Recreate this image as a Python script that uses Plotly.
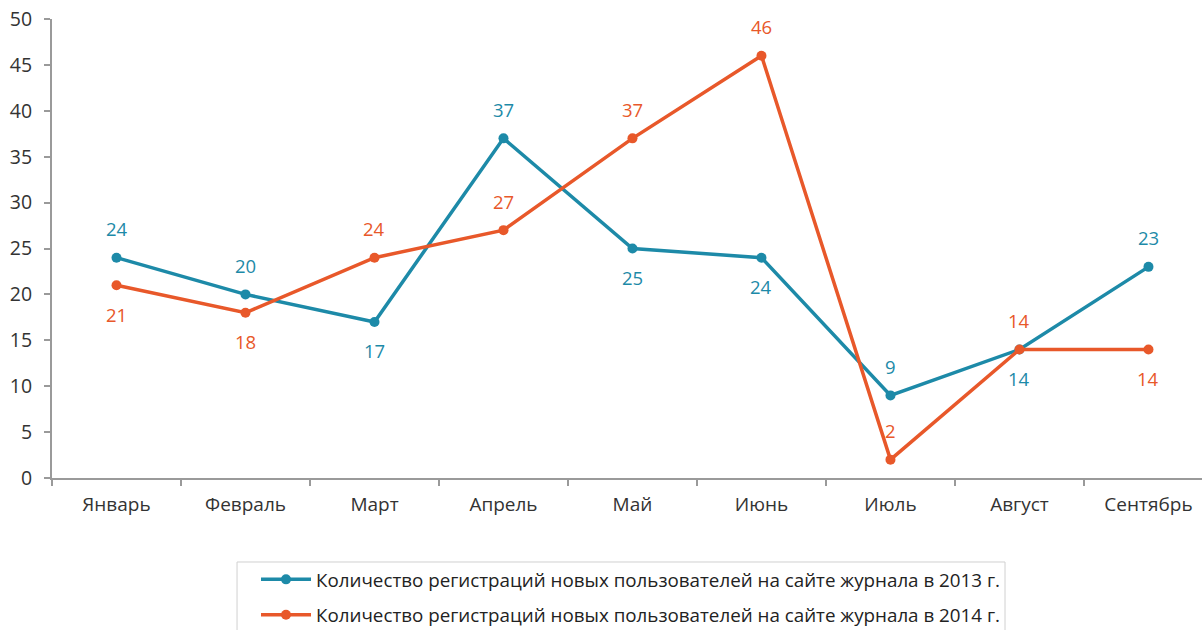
import plotly.graph_objects as go

months = ["Январь", "Февраль", "Март", "Апрель", "Май", "Июнь", "Июль", "Август", "Сентябрь"]
reg_2013 = [24, 20, 17, 37, 25, 24, 9, 14, 23]
reg_2014 = [21, 18, 24, 27, 37, 46, 2, 14, 14]
# +1 = label above the point, -1 = below
side_2013 = [1, 1, -1, 1, -1, -1, 1, -1, 1]
side_2014 = [-1, -1, 1, 1, 1, 1, 1, 1, -1]
name_2013 = "Количество регистраций новых пользователей на сайте журнала в 2013 г."
name_2014 = "Количество регистраций новых пользователей на сайте журнала в 2014 г."

blue = "#1d8aa8"
orange = "#e8582a"
font = "Open Sans"

fig = go.Figure()
for name, vals, sides, col in [(name_2013, reg_2013, side_2013, blue),
                               (name_2014, reg_2014, side_2014, orange)]:
    fig.add_trace(go.Scatter(x=months, y=vals, name=name, legendgroup=name, mode="lines+markers",
                             line=dict(color=col, width=3.5), marker=dict(size=10, color=col)))
    for m, v, s in zip(months, vals, sides):
        fig.add_annotation(x=m, y=v, text=str(v), showarrow=False, yshift=29 * s,
                           font=dict(color=col, size=18.5, family=font))

fig.update_layout(width=1202, height=630, plot_bgcolor="white", paper_bgcolor="white",
                  margin=dict(l=52, r=0, t=19, b=152, autoexpand=False),
                  font=dict(family=font, size=18, color="#333333"),
                  showlegend=True,
                  legend=dict(x=0.1774, y=-0.180, xanchor="left", yanchor="top",
                              borderwidth=0, bgcolor="rgba(0,0,0,0)", itemwidth=50,
                              tracegroupgap=8,
                              font=dict(size=18.8, family=font, color="#222222")))
# legend frame (runs off the bottom of the picture, as in the original)
fig.add_shape(type="rect", xref="paper", yref="paper", x0=0.1609, x1=0.8287, y0=-0.183, y1=-0.40,
              line=dict(color="#d0d0d0", width=1), fillcolor="rgba(0,0,0,0)")
fig.update_xaxes(type="category", range=[-0.5, 8.415], showline=True, linecolor="#9a9a9a", linewidth=2,
                 ticks="outside", tickson="boundaries", ticklen=6, tickcolor="#9a9a9a", tickwidth=2,
                 showgrid=False, automargin=False, ticklabelstandoff=8, tickfont=dict(size=19))
fig.update_yaxes(range=[0, 50], dtick=5, showline=True, linecolor="#9a9a9a", linewidth=2,
                 ticks="outside", ticklen=6, tickcolor="#9a9a9a", tickwidth=2,
                 showgrid=False, zeroline=False, automargin=False, ticklabelstandoff=8,
                 tickfont=dict(size=19.5))

fig.write_html("out.html", config={"displayModeBar": False},
               post_script="document.body.style.margin = '0';")
